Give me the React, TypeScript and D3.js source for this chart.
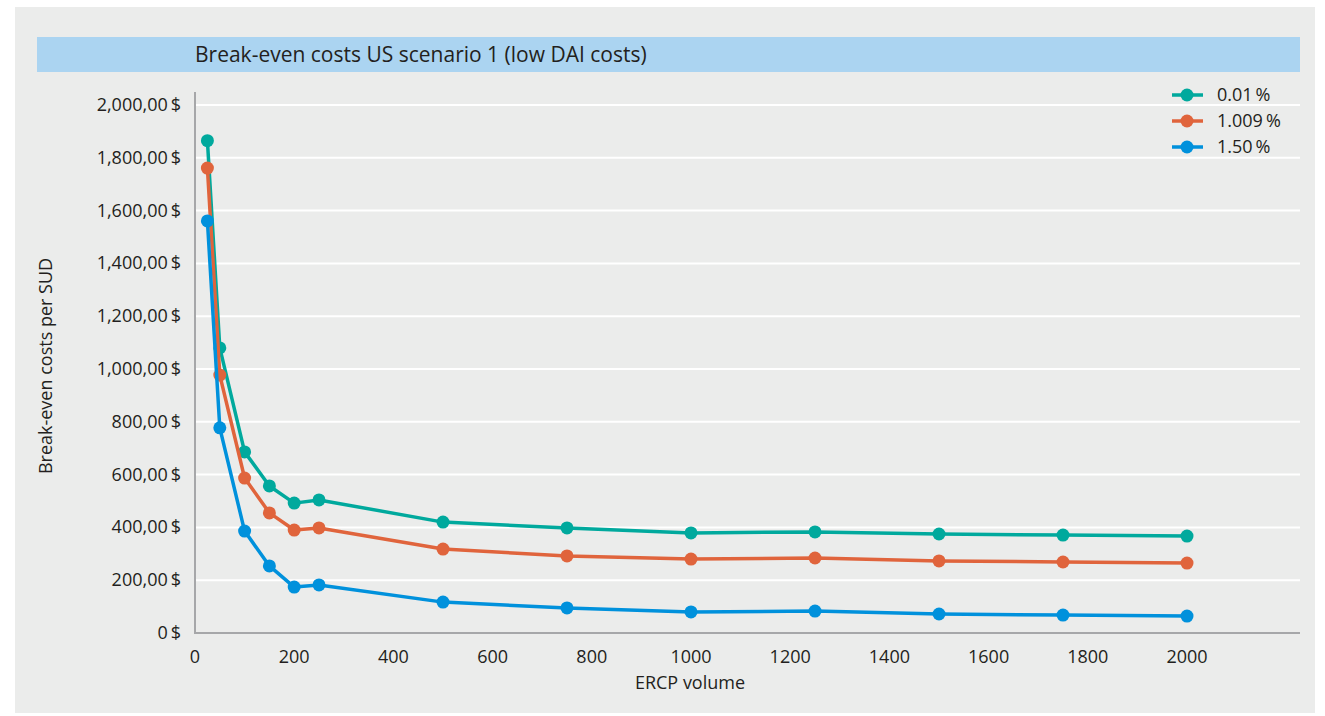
import React from "react";
import * as d3 from "d3";

const volumes = [25, 50, 100, 150, 200, 250, 500, 750, 1000, 1250, 1500, 1750, 2000];
const seriesNames = ["0.01\u2009%", "1.009\u2009%", "1.50\u2009%"];
const seriesColors = ["#00a99d", "#e0643c", "#0091dc"];
const lowValues = [1865, 1080, 686, 557, 492, 504, 420, 398, 379, 383, 375, 371, 367];
const midValues = [1761, 977, 587, 455, 390, 398, 318, 292, 280, 284, 273, 269, 265];
const highValues = [1561, 777, 386, 254, 174, 182, 117, 95, 80, 83, 72, 68, 64];
const yTicks = [0, 200, 400, 600, 800, 1000, 1200, 1400, 1600, 1800, 2000];
const xTicks = [0, 200, 400, 600, 800, 1000, 1200, 1400, 1600, 1800, 2000];
const title = "Break-even costs US scenario 1 (low DAI costs)";
const yTitle = "Break-even costs per SUD";
const xTitle = "ERCP volume";

const FONT = "'Open Sans', sans-serif";

const fmtY = (v: number) => {
  if (v === 0) return "0\u2009$";
  const s = d3.format(",")(v);
  return `${s},00\u2009$`;
};

export default function App() {
  const W = 1325, H = 716;
  const left = 195, right = 1300, top = 92, bottom = 633;
  const x = d3.scaleLinear().domain([0, 2000]).range([left, 1187]);
  const y = d3.scaleLinear().domain([0, 2000]).range([bottom, 105]);
  const series = [lowValues, midValues, highValues];
  const line = d3
    .line<number>()
    .x((_, i) => x(volumes[i]))
    .y((d) => y(d));

  return (
    <svg width={W} height={H} style={{ position: "absolute", left: 0, top: 0 }}>
      <rect x={0} y={0} width={W} height={H} fill="#ffffff" />
      <rect x={15} y={7} width={1300} height={706} fill="#ebeceb" />
      <rect x={37} y={37} width={1263} height={35} fill="#abd4f1" />
      <text x={195} y={62} fontFamily={FONT} fontSize={21} fill="#231f20">
        {title}
      </text>
      {yTicks.slice(1).map((t) => (
        <line key={t} x1={left} x2={right} y1={y(t)} y2={y(t)} stroke="#ffffff" strokeWidth={2} />
      ))}
      <line x1={left} x2={left} y1={top} y2={bottom} stroke="#a6a7a9" strokeWidth={2} />
      <line x1={left - 1} x2={right} y1={bottom} y2={bottom} stroke="#a6a7a9" strokeWidth={2} />
      {yTicks.map((t) => (
        <text key={t} x={181} y={y(t) + 6} textAnchor="end" fontFamily={FONT} fontSize={18} fill="#231f20">
          {fmtY(t)}
        </text>
      ))}
      {xTicks.map((t) => (
        <text key={t} x={x(t)} y={663} textAnchor="middle" fontFamily={FONT} fontSize={18} fill="#231f20">
          {t}
        </text>
      ))}
      <text x={690} y={689} textAnchor="middle" fontFamily={FONT} fontSize={18} fill="#231f20">
        {xTitle}
      </text>
      <text
        transform={`translate(52, 366) rotate(-90)`}
        textAnchor="middle"
        fontFamily={FONT}
        fontSize={18}
        fill="#231f20"
      >
        {yTitle}
      </text>
      {series.map((vals, si) => (
        <g key={si}>
          <path d={line(vals) || ""} fill="none" stroke={seriesColors[si]} strokeWidth={3.5} strokeLinejoin="round" />
          {vals.map((v, i) => (
            <circle key={i} cx={x(volumes[i])} cy={y(v)} r={6.5} fill={seriesColors[si]} />
          ))}
        </g>
      ))}
      {seriesNames.map((n, i) => {
        const ly = 95 + i * 26;
        return (
          <g key={n}>
            <line x1={1172} x2={1203} y1={ly} y2={ly} stroke={seriesColors[i]} strokeWidth={3.5} />
            <circle cx={1187} cy={ly} r={6.5} fill={seriesColors[i]} />
            <text x={1217} y={ly + 6} fontFamily={FONT} fontSize={18} fill="#231f20">
              {n}
            </text>
          </g>
        );
      })}
    </svg>
  );
}
